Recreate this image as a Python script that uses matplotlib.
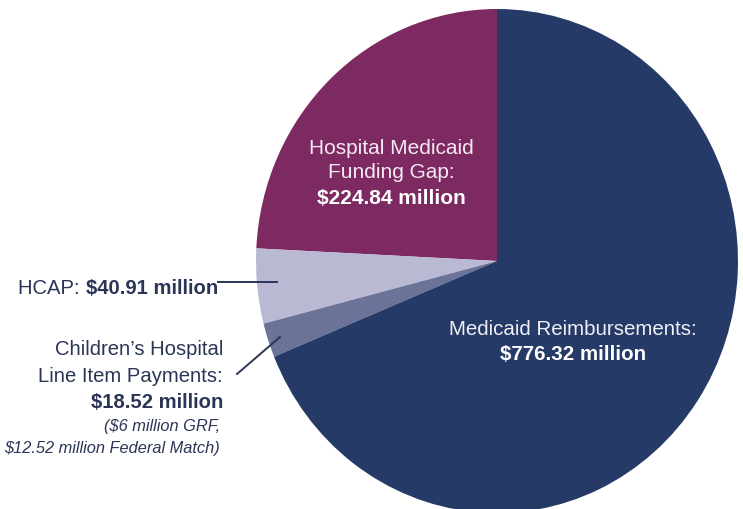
import matplotlib
matplotlib.use("Agg")
from matplotlib import pyplot as plt

# slices in drawing order (counter-clockwise from the top)
names = ["Hospital Medicaid Funding Gap", "HCAP",
         "Children's Hospital Line Item Payments", "Medicaid Reimbursements"]
amounts = ["$224.84 million", "$40.91 million", "$18.52 million", "$776.32 million"]
# share of the circle each slice takes in the picture (percent)
shares = [24.2, 4.8, 2.2, 68.8]
colors = ["#7d2a62", "#b9b9d3", "#6b7399", "#253a66"]

W, H = 743, 510
cx, cy, rx, ry = 497, 262, 241, 252   # pie centre and radii in pixels

def px(x, y):
    # pixel position (from top-left) -> data coords
    return (x - cx) / rx, (cy - y) / ry

fig = plt.figure(figsize=(W / 100, H / 100), dpi=100)
ax = fig.add_axes([0, 0, 1, 1])
ax.pie(shares, colors=colors, startangle=90, counterclock=True,
       wedgeprops=dict(linewidth=0))
ax.set_aspect('auto')
ax.set_xlim(-cx / rx, (W - cx) / rx)
ax.set_ylim(-(H - cy) / ry, cy / ry)
ax.axis('off')

font = 'Liberation Sans'
dark = '#2b3556'

# labels inside the pie
x, y = px(391, 148)
ax.text(x, y, "Hospital Medicaid", ha='center', va='center', fontsize=15, color='#f5e9f1', family=font)
x, y = px(391, 173)
ax.text(x, y, "Funding Gap:", ha='center', va='center', fontsize=15, color='#f5e9f1', family=font)
x, y = px(391, 198)
ax.text(x, y, amounts[0], ha='center', va='center', fontsize=15, color='white', family=font, weight='bold')

x, y = px(573, 330)
ax.text(x, y, "Medicaid Reimbursements:", ha='center', va='center', fontsize=14.8, color='#eef0f6', family=font)
x, y = px(573, 355)
ax.text(x, y, amounts[3], ha='center', va='center', fontsize=14.8, color='white', family=font, weight='bold')

# HCAP label outside
x, y = px(218, 288)
t = ax.text(x, y, amounts[1], ha='right', va='center', fontsize=14.6, color=dark, family=font, weight='bold')
fig.canvas.draw()
bb = t.get_window_extent()
x0 = ax.transData.inverted().transform((bb.x0, 0))[0]
ax.text(x0, y, "HCAP: ", ha='right', va='center', fontsize=14.6, color=dark, family=font)
lx, ly = zip(px(218, 283), px(277, 283))
ax.plot(lx, ly, color=dark, lw=1.4)

# Children's hospital label outside
for (yy, s, kw) in [(350, "Children\u2019s Hospital", {}),
                    (377, "Line Item Payments:", {}),
                    (402, amounts[2], {'weight': 'bold'})]:
    x, y = px(223, yy)
    ax.text(x, y, s, ha='right', va='center', fontsize=14.6, color=dark, family=font, **kw)
for (yy, s) in [(427, "($6 million GRF,"), (449, "$12.52 million Federal Match)")]:
    x, y = px(220, yy)
    ax.text(x, y, s, ha='right', va='center', fontsize=11.8, color=dark, family=font, style='italic')
lx, ly = zip(px(237, 375), px(280, 338))
ax.plot(lx, ly, color=dark, lw=1.4)

fig.savefig("out.png", dpi=100)
